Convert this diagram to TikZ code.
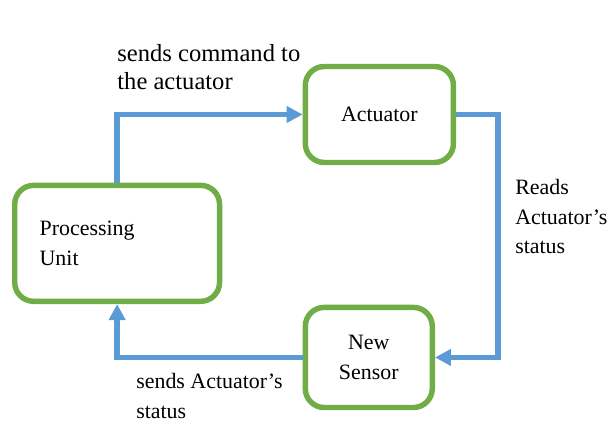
\documentclass[tikz,border=0pt]{standalone}
\usepackage{fontspec}
\setmainfont{Liberation Serif}
\usetikzlibrary{positioning,arrows.meta}
\definecolor{boxgreen}{HTML}{70AD47}
\definecolor{flowblue}{HTML}{5B9BD5}
\tikzset{>={Triangle[length=12pt,width=12pt]}}
\tikzset{
  unitbox/.style={draw=boxgreen, line width=4.1pt, rounded corners=0.5cm, fill=white, font=\fontsize{16.5}{22}\selectfont},
  flow/.style={->, draw=flowblue, line width=4.1pt},
  lbl/.style={align=left, inner sep=0pt, font=\fontsize{16.5}{22}\selectfont}
}

\begin{document}
\begin{tikzpicture}
  \useasboundingbox (0,0) rectangle (16.17,11.14);
  \node[unitbox, minimum width=5.42cm, minimum height=3.07cm, text width=4.1cm, inner xsep=0.66cm, align=left] (pu) at (3.10,4.70) {Processing\\Unit};
  \coordinate[above of=pu, node distance=3.41cm] (aux2);
  \node[unitbox, minimum width=3.92cm, minimum height=2.54cm, right of=aux2, node distance=6.94cm] (act) {Actuator};
  \coordinate[right of=act, node distance=3.14cm] (aux1);
  \node[unitbox, minimum width=3.36cm, minimum height=2.65cm, align=center, below of=act, node distance=6.43cm, xshift=-0.28cm] (sen) {New\\Sensor};
  \draw[flow] (pu.north) |- (act.west);
  \draw[flow] (act.east) -- (aux1) |- (sen.east);
  \draw[flow] (sen.west) -| (pu.south);
  \node[lbl, anchor=south west, font=\fontsize{18.5}{21}\selectfont] (cmd) at ([yshift=0.66cm]pu.north |- act.west) {sends command to\\the actuator};
  \node[lbl, anchor=north west] (reads) at ([xshift=0.45cm, yshift=-1.72cm]aux1) {Reads\\Actuator’s\\status};
  \node[lbl, anchor=north west] (sends) at ([xshift=0.5cm, yshift=-0.42cm]pu.south |- sen.west) {sends Actuator’s\\status};
\end{tikzpicture}
\end{document}
